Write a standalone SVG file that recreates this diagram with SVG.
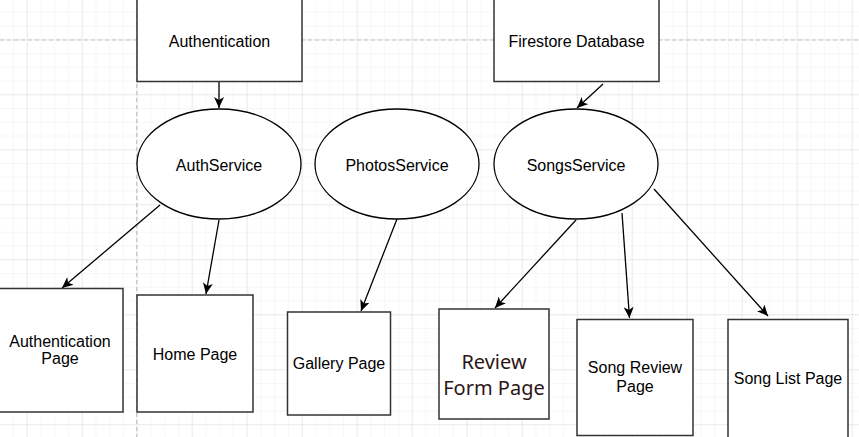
<svg xmlns="http://www.w3.org/2000/svg" width="859" height="437" viewBox="0 0 859 437">
  <defs>
    <pattern id="minor" patternUnits="userSpaceOnUse" x="12.95" y="11.8" width="13.75" height="13.75">
      <path d="M0,0 H13.75 M0,0 V13.75" fill="none" stroke="#f0f0f0" stroke-width="1"/>
    </pattern>
    <pattern id="major" patternUnits="userSpaceOnUse" x="26.7" y="39.3" width="55" height="55">
      <path d="M0,0 H55 M0,0 V55" fill="none" stroke="#dedede" stroke-width="1"/>
    </pattern>
    <marker id="arrow" viewBox="0 0 12 10" refX="11" refY="5" markerWidth="12" markerHeight="10" markerUnits="userSpaceOnUse" orient="auto">
      <path d="M0,0 L11,5 L0,10 L3,5 Z" fill="#000"/>
    </marker>
    <style>
      .box { fill: #fff; stroke: #333; stroke-width: 1.5; }
      .ell { fill: #fff; stroke: #000; stroke-width: 1.3; }
      .lbl { font-family: "Liberation Sans", Arial, sans-serif; font-size: 16px; fill: #000; text-anchor: middle; }
      .alt { font-family: "Noto Sans", "Open Sans", sans-serif; font-size: 20px; fill: #2e1616; text-anchor: middle; }
      .edge { stroke: #000; stroke-width: 1.3; fill: none; marker-end: url(#arrow); }
      .guide { stroke: #c4c4c4; stroke-width: 1.2; stroke-dasharray: 4 3; fill: none; }
    </style>
  </defs>
  <rect x="0" y="0" width="859" height="437" fill="#fff"/>
  <rect x="0" y="0" width="859" height="437" fill="url(#minor)"/>
  <rect x="0" y="0" width="859" height="437" fill="url(#major)"/>
  <g id="guides">
    <line class="guide" x1="0" y1="40" x2="859" y2="40"/>
    <line class="guide" x1="136.7" y1="0" x2="136.7" y2="437"/>
  </g>

  <g id="connectors">
    <line class="edge" x1="219" y1="82" x2="219" y2="108"/>
    <line class="edge" x1="603" y1="84" x2="577" y2="108"/>
    <line class="edge" x1="160" y1="205" x2="62" y2="288"/>
    <line class="edge" x1="219" y1="220" x2="206" y2="294"/>
    <line class="edge" x1="397" y1="219" x2="361" y2="311"/>
    <line class="edge" x1="576" y1="220" x2="495" y2="308"/>
    <line class="edge" x1="622" y1="213" x2="629.5" y2="318"/>
    <line class="edge" x1="654" y1="189" x2="768" y2="316"/>
  </g>

  <g id="authentication">
    <rect class="box" x="137" y="-1" width="165" height="82.5"/>
    <text class="lbl" x="219.5" y="46.5">Authentication</text>
  </g>
  <g id="firestore">
    <rect class="box" x="494" y="-1" width="165" height="82.5"/>
    <text class="lbl" x="576.5" y="46.5">Firestore Database</text>
  </g>

  <g id="authservice">
    <ellipse class="ell" cx="219" cy="164" rx="82" ry="55"/>
    <text class="lbl" x="219" y="170.5">AuthService</text>
  </g>
  <g id="photosservice">
    <ellipse class="ell" cx="397" cy="164" rx="82" ry="55"/>
    <text class="lbl" x="397" y="170.5">PhotosService</text>
  </g>
  <g id="songsservice">
    <ellipse class="ell" cx="576" cy="164" rx="82" ry="55"/>
    <text class="lbl" x="576" y="170.5">SongsService</text>
  </g>

  <g id="authentication-page">
    <rect class="box" x="-3" y="288.5" width="126" height="123.5"/>
    <text class="lbl" x="60" y="346.5">Authentication</text>
    <text class="lbl" x="60" y="364">Page</text>
  </g>
  <g id="home-page">
    <rect class="box" x="137" y="295" width="116" height="117"/>
    <text class="lbl" x="195" y="360">Home Page</text>
  </g>
  <g id="gallery-page">
    <rect class="box" x="287.5" y="312" width="103" height="103"/>
    <text class="lbl" x="339" y="369">Gallery Page</text>
  </g>
  <g id="review-form-page">
    <rect class="box" x="439" y="309" width="110" height="110"/>
    <text class="alt" x="494" y="369">Review</text>
    <text class="alt" x="494" y="395">Form Page</text>
  </g>
  <g id="song-review-page">
    <rect class="box" x="577" y="319.5" width="116" height="116"/>
    <text class="lbl" x="635" y="372.5">Song Review</text>
    <text class="lbl" x="635" y="392">Page</text>
  </g>
  <g id="song-list-page">
    <rect class="box" x="728" y="319.5" width="120" height="125"/>
    <text class="lbl" x="788" y="384">Song List Page</text>
  </g>
</svg>
